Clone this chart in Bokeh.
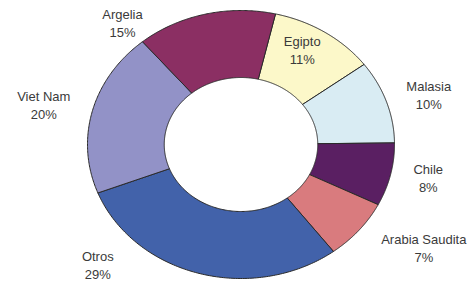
import numpy as np
from bokeh.plotting import figure
from bokeh.models import Range1d, ColumnDataSource
from bokeh.core.properties import value
from bokeh.embed import file_html
from bokeh.resources import INLINE

# ---- data (clockwise from the top) ----
countries = ["Egipto", "Malasia", "Chile", "Arabia Saudita", "Otros", "Viet Nam", "Argelia"]
shares = [11.2, 10.0, 7.6, 7.3, 29.4, 19.8, 14.7]
colors = ["#FCF8C9", "#D9ECF3", "#5A1F62", "#D97B7E", "#4262AA", "#9292C7", "#8B2F63"]

# ---- layout (ring in unit coordinates) ----
start_deg = 13.0
inner = 0.5
W, H = 473, 284
cx_px, cy_px, rx_px, ry_px = 240.5, 144.0, 153.5, 134.0
# label anchor positions (unit ring coordinates)
label_x = [0.399, 1.223, 1.220, 1.191, -0.933, -1.285, -0.772]
label_y = [0.698, 0.368, -0.250, -0.776, -0.905, 0.293, 0.903]

p = figure(width=W, height=H, output_backend="svg", toolbar_location=None,
           x_range=Range1d(-cx_px / rx_px, (W - cx_px) / rx_px),
           y_range=Range1d(-(H - cy_px) / ry_px, cy_px / ry_px),
           min_border=0, background_fill_color="white", border_fill_color="white")
p.axis.visible = False
p.grid.visible = False
p.outline_line_color = None

vals = np.array(shares, dtype=float)
fr = vals / vals.sum()
ends = np.radians(start_deg) + 2 * np.pi * np.cumsum(fr)
starts = ends - 2 * np.pi * fr

xs, ys = [], []
for a0, a1 in zip(starts, ends):
    t = np.linspace(a0, a1, 120)
    ox, oy = np.sin(t), np.cos(t)
    ix, iy = inner * np.sin(t[::-1]), inner * np.cos(t[::-1])
    xs.append(list(np.concatenate([ox, ix])))
    ys.append(list(np.concatenate([oy, iy])))

src = ColumnDataSource(dict(xs=xs, ys=ys, color=colors))
p.patches("xs", "ys", source=src, fill_color="color", line_color="#2a2a2a", line_width=1)

pct = [f"{round(v / vals.sum() * 100):d}%" for v in vals]
lab = ColumnDataSource(dict(x=label_x, y=label_y, name=countries, pct=pct))
common = dict(text_font=value("Liberation Sans"), text_font_size="13px",
              text_color="#3a3a3a", text_align="center", text_baseline="middle")
p.text("x", "y", text="name", source=lab, y_offset=-9, **common)
p.text("x", "y", text="pct", source=lab, y_offset=9, **common)

open("out.html", "w").write(file_html(p, INLINE))
